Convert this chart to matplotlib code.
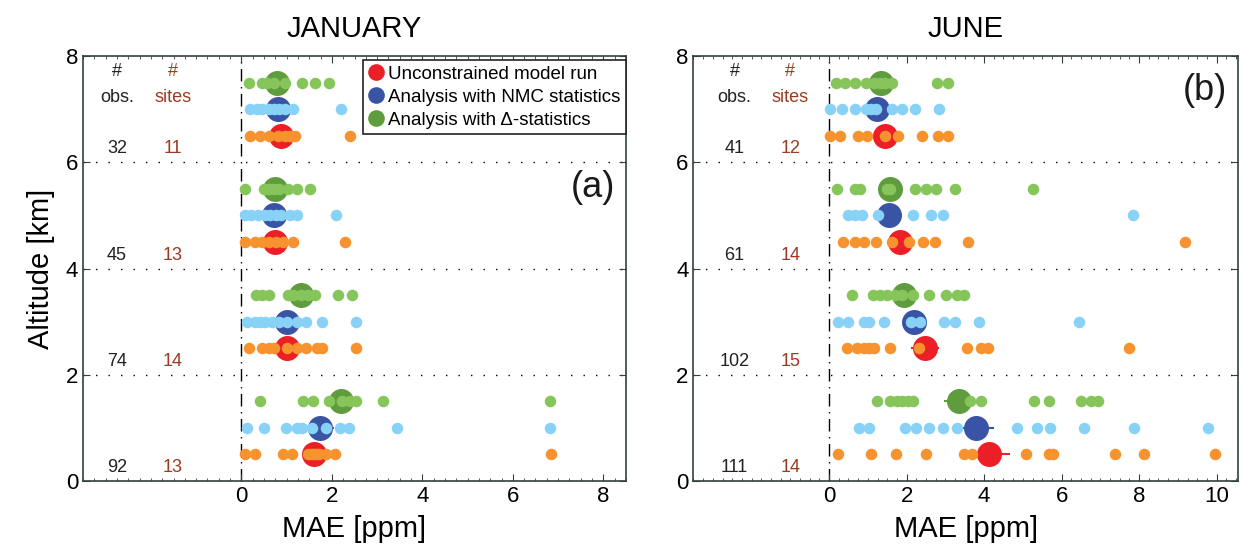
import matplotlib
matplotlib.use("Agg")
import matplotlib.pyplot as plt
from matplotlib.lines import Line2D
from matplotlib.ticker import MultipleLocator

plt.rcParams['font.family'] = ['Liberation Sans', 'DejaVu Sans']

# altitude bands (bottom of each 2 km layer)
band_bottoms = [0, 2, 4, 6]

# ---- JANUARY: MAE per site, one list per altitude band (0-2, 2-4, 4-6, 6-8 km)
jan_unc = [
    [0.09, 0.31, 0.92, 1.12, 1.47, 1.53, 1.59, 1.65, 1.71, 1.86, 2.06, 6.85],
    [0.17, 0.45, 0.6, 0.72, 1.0, 1.23, 1.43, 1.67, 1.78, 2.53],
    [0.09, 0.29, 0.45, 0.6, 0.76, 0.92, 1.15, 2.29],
    [0.2, 0.41, 0.6, 0.8, 0.96, 1.08, 1.19, 2.41],
]
jan_nmc = [
    [0.13, 0.51, 0.98, 1.23, 1.35, 1.55, 1.86, 2.18, 2.37, 3.43, 6.81],
    [0.13, 0.29, 0.41, 0.53, 0.68, 0.84, 1.0, 1.23, 1.43, 1.78, 2.53],
    [0.09, 0.21, 0.37, 0.53, 0.64, 0.76, 0.88, 1.08, 1.23, 2.1],
    [0.2, 0.35, 0.45, 0.6, 0.72, 0.84, 0.96, 1.15, 2.2],
]
jan_delta = [
    [0.41, 1.37, 1.59, 1.94, 2.22, 2.41, 2.53, 3.12, 6.81],
    [0.33, 0.45, 0.6, 1.04, 1.15, 1.31, 1.47, 1.63, 2.14, 2.45],
    [0.07, 0.49, 0.61, 0.72, 0.84, 1.04, 1.23, 1.51],
    [0.16, 0.45, 0.57, 0.72, 0.96, 1.33, 1.63, 1.94],
]
jan_unc_mean = [1.6, 1.0, 0.75, 0.88]
jan_nmc_mean = [1.74, 1.0, 0.71, 0.8]
jan_delta_mean = [2.2, 1.31, 0.75, 0.79]
jan_unc_err = [0.15, 0.1, 0.08, 0.08]
jan_nmc_err = [0.3, 0.1, 0.08, 0.08]
jan_delta_err = [0.15, 0.1, 0.08, 0.08]
jan_obs = [92, 74, 45, 32]
jan_sites = [13, 14, 13, 11]

# ---- JUNE
jun_unc = [
    [0.23, 1.08, 1.73, 2.5, 3.49, 3.69, 5.07, 5.68, 5.78, 7.37, 8.13, 9.95],
    [0.45, 0.72, 0.9, 1.04, 1.17, 1.58, 2.32, 3.56, 3.92, 4.1, 7.75],
    [0.36, 0.68, 0.9, 1.22, 1.62, 2.07, 2.43, 2.73, 3.58, 9.19],
    [0.03, 0.29, 0.74, 0.99, 1.44, 1.78, 2.39, 2.81, 3.06],
]
jun_nmc = [
    [0.77, 1.04, 1.96, 2.25, 2.59, 2.93, 3.29, 4.86, 5.36, 5.69, 6.59, 7.86, 9.79],
    [0.23, 0.5, 0.9, 1.04, 1.42, 2.12, 2.34, 2.97, 3.24, 3.86, 6.44],
    [0.5, 0.68, 0.86, 1.26, 2.16, 2.63, 2.93, 7.84],
    [0.03, 0.33, 0.68, 0.95, 1.08, 1.22, 1.62, 1.89, 2.21, 2.84],
]
jun_delta = [
    [1.24, 1.58, 1.76, 1.89, 2.03, 2.16, 3.63, 3.92, 5.3, 5.68, 6.5, 6.77, 6.94],
    [0.59, 1.13, 1.31, 1.49, 1.71, 1.89, 2.16, 2.57, 3.02, 3.29, 3.47],
    [0.2, 0.68, 0.81, 1.49, 1.58, 2.21, 2.5, 2.75, 3.24, 5.27],
    [0.18, 0.42, 0.68, 0.95, 1.17, 1.31, 1.44, 1.62, 2.79, 3.06],
]
jun_unc_mean = [4.12, 2.48, 1.82, 1.44]
jun_nmc_mean = [3.78, 2.18, 1.55, 1.24]
jun_delta_mean = [3.35, 1.94, 1.58, 1.35]
jun_unc_err = [0.55, 0.36, 0.15, 0.1]
jun_nmc_err = [0.48, 0.2, 0.1, 0.1]
jun_delta_err = [0.38, 0.15, 0.1, 0.1]
jun_obs = [111, 102, 61, 41]
jun_sites = [14, 15, 14, 12]

# colours (big mean marker, small site dots)
RED, ORANGE = '#ec1e26', '#f7932f'
BLUE, LBLUE = '#3a54a5', '#87d2f6'
GREEN, LGREEN = '#5f9c3e', '#85c55a'
SITES_COL = '#9b3a22'
SPINE_COL = '#33403f'


def draw_panel(ax, series, means, errs, obs, sites, xlim, xmajor, title, tag,
               tag_y, txt_x):
    big_cols = [RED, BLUE, GREEN]
    small_cols = [ORANGE, LBLUE, LGREEN]
    offsets = [0.5, 1.0, 1.5]
    for k in range(3):
        for i, base in enumerate(band_bottoms):
            y = base + offsets[k]
            ax.errorbar([means[k][i]], [y], xerr=[errs[k][i]], fmt='o',
                        color=big_cols[k], ms=18, mew=0, elinewidth=1.5,
                        capsize=3, capthick=1.5, zorder=3)
            ax.plot(series[k][i], [y] * len(series[k][i]), 'o',
                    color=small_cols[k], ms=8.3, mew=0, zorder=4)

    # layer separators and zero line
    for yy in [2, 4, 6]:
        ax.axhline(yy, color='k', lw=1, ls=(0, (1, 8)), zorder=1)
    ax.plot([0, 0], [0, 8], color='k', lw=1, ls=(0, (9, 4, 1, 4)), zorder=1)

    # counts
    fs = 13
    for i, base in enumerate(band_bottoms):
        ax.text(txt_x[0], base + 0.25, str(obs[i]), ha='center', va='center',
                fontsize=fs, color='#222222')
        ax.text(txt_x[1], base + 0.25, str(sites[i]), ha='center', va='center',
                fontsize=fs, color=SITES_COL)
    ax.text(txt_x[0], 7.7, '#', ha='center', va='center', fontsize=fs, color='#222222')
    ax.text(txt_x[0], 7.22, 'obs.', ha='center', va='center', fontsize=fs, color='#222222')
    ax.text(txt_x[1], 7.7, '#', ha='center', va='center', fontsize=fs, color=SITES_COL)
    ax.text(txt_x[1], 7.22, 'sites', ha='center', va='center', fontsize=fs, color=SITES_COL)

    ax.text(0.98, tag_y, tag, transform=ax.transAxes, ha='right', va='center',
            fontsize=26, color='#1a1a1a')

    ax.set_xlim(*xlim)
    ax.set_ylim(0, 8)
    ax.set_xticks(xmajor)
    ax.set_yticks([0, 2, 4, 6, 8])
    ax.xaxis.set_minor_locator(MultipleLocator(0.25))
    ax.tick_params(which='both', direction='in', top=True, right=True,
                   labelsize=16, color=SPINE_COL)
    ax.tick_params(which='major', length=5)
    ax.tick_params(which='minor', length=2.5)
    for sp in ax.spines.values():
        sp.set_color(SPINE_COL)
        sp.set_linewidth(1.2)
    ax.set_xlabel('MAE [ppm]', fontsize=21, labelpad=6)
    ax.set_title(title, fontsize=21, pad=14)


fig = plt.figure(figsize=(12.45, 5.59), dpi=100)
ax1 = fig.add_axes([0.0667, 0.1395, 0.4361, 0.7603])
ax2 = fig.add_axes([0.557, 0.1395, 0.4373, 0.7603])

draw_panel(ax1, [jan_unc, jan_nmc, jan_delta],
           [jan_unc_mean, jan_nmc_mean, jan_delta_mean],
           [jan_unc_err, jan_nmc_err, jan_delta_err],
           jan_obs, jan_sites, (-3.5, 8.5), [0, 2, 4, 6, 8],
           'JANUARY', '(a)', 0.69, (-2.75, -1.52))
draw_panel(ax2, [jun_unc, jun_nmc, jun_delta],
           [jun_unc_mean, jun_nmc_mean, jun_delta_mean],
           [jun_unc_err, jun_nmc_err, jun_delta_err],
           jun_obs, jun_sites, (-3.5, 10.55), [0, 2, 4, 6, 8, 10],
           'JUNE', '(b)', 0.92, (-2.44, -1.0))

ax1.set_ylabel('Altitude [km]', fontsize=21, labelpad=8)

handles = [Line2D([], [], marker='o', ls='none', color=c, ms=12, mew=0)
           for c in [RED, BLUE, GREEN]]
labels = ['Unconstrained model run', 'Analysis with NMC statistics',
          'Analysis with \u0394-statistics']
leg = ax1.legend(handles, labels, loc='upper right', bbox_to_anchor=(1.0, 0.99),
                 borderaxespad=0, fontsize=13.5, handlelength=0.8,
                 handletextpad=0.25, labelspacing=0.3, borderpad=0.3,
                 fancybox=False, framealpha=1, edgecolor='#222222')
leg.get_frame().set_linewidth(1.2)
leg.set_zorder(6)

fig.savefig('out.png', dpi=100)
